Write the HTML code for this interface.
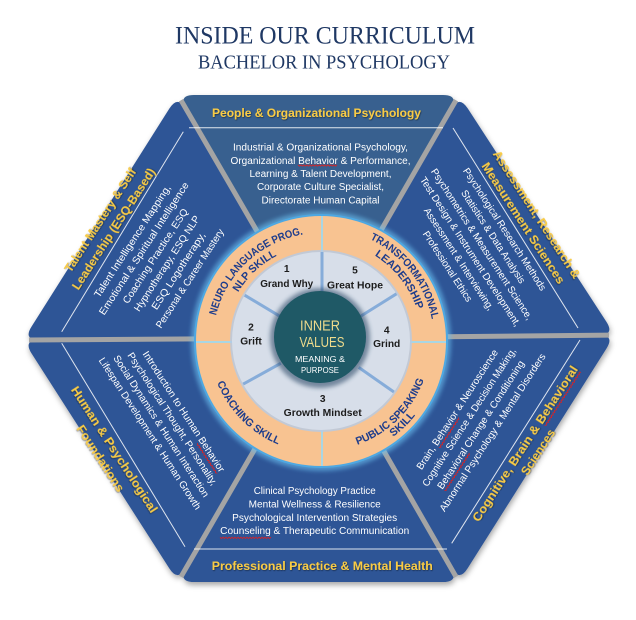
<!DOCTYPE html>
<html><head><meta charset="utf-8">
<style>
html,body{margin:0;padding:0;background:#ffffff;}
svg{display:block;}
.b{font-family:"Liberation Sans",sans-serif;font-size:10px;fill:#ffffff;}
.t{font-family:"Liberation Sans",sans-serif;font-size:12px;font-weight:bold;fill:#f8cb45;}
.r{font-family:"Liberation Sans",sans-serif;font-size:10.8px;font-weight:bold;fill:#1d3c8c;}
.n{font-family:"Liberation Sans",sans-serif;font-size:10.2px;font-weight:bold;fill:#1c1c1c;}
.w{fill:none;stroke:#e02020;stroke-width:0.8;}
</style></head>
<body>
<svg width="636" height="620" viewBox="0 0 636 620" xmlns="http://www.w3.org/2000/svg">
<defs>
<filter id="sh" x="-10%" y="-10%" width="120%" height="120%">
<feGaussianBlur in="SourceAlpha" stdDeviation="3"/>
<feOffset dx="1" dy="3" result="b"/>
<feFlood flood-color="#000" flood-opacity="0.35"/>
<feComposite in2="b" operator="in"/>
<feMerge><feMergeNode/><feMergeNode in="SourceGraphic"/></feMerge>
</filter>
<filter id="glow" x="-20%" y="-20%" width="140%" height="140%"><feGaussianBlur stdDeviation="2"/></filter>
<filter id="tsh" x="-5%" y="-20%" width="110%" height="140%"><feDropShadow dx="0.6" dy="0.8" stdDeviation="0.4" flood-color="#000" flood-opacity="0.5"/></filter>
<path id="a1" d="M215.8,365.3 A108,108 0 0 1 352.6,237.7"/>
<path id="a2" d="M227.6,363.4 A96,96 0 0 1 348.3,249"/>
<path id="a3" d="M305.9,229 A113,113 0 0 1 425.5,383.9"/>
<path id="a4" d="M306.9,241 A101,101 0 0 1 414.6,378.8"/>
<path id="a5" d="M213,311.4 A112,112 0 0 0 349.4,449.3"/>
<path id="a6" d="M291.2,446.9 A110,110 0 0 0 427.6,313.8"/>
<path id="a7" d="M288.7,456.6 A120,120 0 0 0 437.2,311.2"/>
</defs>

<!-- Title -->
<text x="325" y="43.3" font-family="Liberation Serif, serif" font-size="25" fill="#1f3864" text-anchor="middle" textLength="300" lengthAdjust="spacingAndGlyphs">INSIDE OUR CURRICULUM</text>
<text x="324" y="68.3" font-family="Liberation Serif, serif" font-size="20" fill="#1f3864" text-anchor="middle" textLength="252" lengthAdjust="spacingAndGlyphs">BACHELOR IN PSYCHOLOGY</text>

<!-- Hexagon triangles -->
<g filter="url(#sh)">
<path d="M319,338 L186,108.8 Q178,95 194,95 L443,95 Q459,95 451,108.9 Z" fill="#38618f"/>
<path d="M319,338 L451,108.9 Q459,95 467.7,108.4 L606.3,321.6 Q615,335 599,335.2 Z" fill="#2e5496"/>
<path d="M319,338 L599,335.2 Q615,335 606.5,348.5 L467.5,568.5 Q459,582 451,568.1 Z" fill="#2e5496"/>
<path d="M319,338 L451,568.1 Q459,582 443,582 L194,582 Q178,582 186,568.1 Z" fill="#2e5496"/>
<path d="M319,338 L186,568.1 Q178,582 169.4,568.5 L31.6,353.5 Q23,340 39,339.9 Z" fill="#2e5496"/>
<path d="M319,338 L39,339.9 Q23,340 31.6,326.5 L169.4,108.5 Q178,95 186,108.8 Z" fill="#2e5496"/>
</g>

<!-- gray gaps -->
<g stroke="#a4a4a4" stroke-width="5" stroke-linecap="butt">
<line x1="319" y1="338" x2="609" y2="335.1"/>
<line x1="319" y1="338" x2="456" y2="100.2"/>
<line x1="319" y1="338" x2="181" y2="100.2"/>
<line x1="319" y1="338" x2="29" y2="340"/>
<line x1="319" y1="338" x2="181" y2="576.8"/>
<line x1="319" y1="338" x2="456" y2="576.8"/>
</g>

<!-- white rules -->
<g stroke="#ffffff" stroke-width="1" opacity="0.85">
<line x1="189" y1="127.7" x2="443" y2="127.7"/>
<line x1="194" y1="549" x2="447" y2="549"/>
<line x1="61.7" y1="331.7" x2="183.3" y2="131.7"/>
<line x1="453" y1="128" x2="578" y2="328"/>
<line x1="61.7" y1="343.3" x2="185" y2="546.7"/>
<line x1="451.7" y1="543.3" x2="580" y2="340"/>
</g>

<!-- Top triangle text -->
<text class="t" filter="url(#tsh)" x="316.5" y="117" font-size="11.8" text-anchor="middle" textLength="209" lengthAdjust="spacingAndGlyphs">People &amp; Organizational Psychology</text>
<g class="b" text-anchor="middle">
<text x="320.5" y="150.6" textLength="175" lengthAdjust="spacingAndGlyphs">Industrial &amp; Organizational Psychology,</text>
<text x="320.5" y="163.8" textLength="180" lengthAdjust="spacingAndGlyphs">Organizational Behavior &amp; Performance,</text>
<text x="320.5" y="177" textLength="142" lengthAdjust="spacingAndGlyphs">Learning &amp; Talent Development,</text>
<text x="320.5" y="190.2" textLength="127" lengthAdjust="spacingAndGlyphs">Corporate Culture Specialist,</text>
<text x="320.5" y="203.4" textLength="118" lengthAdjust="spacingAndGlyphs">Directorate Human Capital</text>
</g>
<polyline class="w" points="298,164.8 299.5,166.2 301,164.8 302.5,166.2 304,164.8 305.5,166.2 307,164.8 308.5,166.2 310,164.8 311.5,166.2 313,164.8 314.5,166.2 316,164.8 317.5,166.2 319,164.8 320.5,166.2 322,164.8 323.5,166.2 325,164.8 326.5,166.2 328,164.8 329.5,166.2 331,164.8 332.5,166.2 334,164.8 335.5,166.2 337,164.8"/>

<!-- Bottom triangle text -->
<g class="b" text-anchor="middle">
<text x="314.7" y="494.2" textLength="122" lengthAdjust="spacingAndGlyphs">Clinical Psychology Practice</text>
<text x="314.7" y="507.4" textLength="132" lengthAdjust="spacingAndGlyphs">Mental Wellness &amp; Resilience</text>
<text x="314.7" y="520.8" textLength="165" lengthAdjust="spacingAndGlyphs">Psychological Intervention Strategies</text>
<text x="314.7" y="534.2" textLength="189" lengthAdjust="spacingAndGlyphs">Counseling &amp; Therapeutic Communication</text>
</g>
<polyline class="w" points="220,537.2 221.5,538.6 223,537.2 224.5,538.6 226,537.2 227.5,538.6 229,537.2 230.5,538.6 232,537.2 233.5,538.6 235,537.2 236.5,538.6 238,537.2 239.5,538.6 241,537.2 242.5,538.6 244,537.2 245.5,538.6 247,537.2 248.5,538.6 250,537.2 251.5,538.6 253,537.2 254.5,538.6 256,537.2 257.5,538.6 259,537.2 260.5,538.6 262,537.2 263.5,538.6 265,537.2 266.5,538.6 268,537.2 269.5,538.6 271,537.2"/>
<text class="t" filter="url(#tsh)" x="322.3" y="570" font-size="11.8" text-anchor="middle" textLength="221" lengthAdjust="spacingAndGlyphs">Professional Practice &amp; Mental Health</text>

<!-- Upper-left triangle text (rotate -57) -->
<g transform="translate(100.3,220.3) rotate(-57)"><text class="t" filter="url(#tsh)" x="0" y="4.2" text-anchor="middle" textLength="121" lengthAdjust="spacingAndGlyphs">Talent Mastery &amp; Self</text></g>
<g transform="translate(113.7,229) rotate(-57)"><text class="t" filter="url(#tsh)" x="0" y="4.2" text-anchor="middle" textLength="142" lengthAdjust="spacingAndGlyphs">Leadership (ESQ-Based)</text></g>
<g transform="translate(132.2,241) rotate(-57)"><text class="b" x="0" y="3.5" text-anchor="middle" textLength="132" lengthAdjust="spacingAndGlyphs">Talent Intelligence Mapping,</text></g>
<g transform="translate(143.7,248.4) rotate(-57)"><text class="b" x="0" y="3.5" text-anchor="middle" textLength="156" lengthAdjust="spacingAndGlyphs">Emotional &amp; Spiritual Intelligence</text></g>
<g transform="translate(155.2,255.9) rotate(-57)"><text class="b" x="0" y="3.5" text-anchor="middle" textLength="111" lengthAdjust="spacingAndGlyphs">Coaching Practice, ESQ</text></g>
<g transform="translate(166.7,263.4) rotate(-57)"><text class="b" x="0" y="3.5" text-anchor="middle" textLength="112" lengthAdjust="spacingAndGlyphs">Hypnotherapy, ESQ NLP</text></g>
<g transform="translate(178.2,270.8) rotate(-57)"><text class="b" x="0" y="3.5" text-anchor="middle" textLength="90" lengthAdjust="spacingAndGlyphs">ESQ Logotherapy,</text></g>
<g transform="translate(189.7,278.3) rotate(-57)"><text class="b" x="0" y="3.5" text-anchor="middle" textLength="116" lengthAdjust="spacingAndGlyphs">Personal &amp; Career Mastery</text></g>

<!-- Upper-right triangle text (rotate 57) -->
<g transform="translate(536.6,214.5) rotate(57)"><text class="t" filter="url(#tsh)" x="0" y="4.2" text-anchor="middle" textLength="150" lengthAdjust="spacingAndGlyphs">Assessment, Research &amp;</text></g>
<g transform="translate(523.2,223.2) rotate(57)"><text class="t" filter="url(#tsh)" x="0" y="4.2" text-anchor="middle" textLength="142" lengthAdjust="spacingAndGlyphs">Measurement Sciences</text></g>
<g transform="translate(504.8,229.2) rotate(57)"><text class="b" x="0" y="3.5" text-anchor="middle" textLength="144" lengthAdjust="spacingAndGlyphs">Psychological Research Methods</text></g>
<g transform="translate(493.4,236.6) rotate(57)"><text class="b" x="0" y="3.5" text-anchor="middle" textLength="109" lengthAdjust="spacingAndGlyphs">Statistics &amp; Data Analysis</text></g>
<g transform="translate(482,244.1) rotate(57)"><text class="b" x="0" y="3.5" text-anchor="middle" textLength="178" lengthAdjust="spacingAndGlyphs">Psychometrics &amp; Measurement Science,</text></g>
<g transform="translate(470.5,251.5) rotate(57)"><text class="b" x="0" y="3.5" text-anchor="middle" textLength="176" lengthAdjust="spacingAndGlyphs">Test Design &amp; Instrument Development,</text></g>
<g transform="translate(459.1,258.9) rotate(57)"><text class="b" x="0" y="3.5" text-anchor="middle" textLength="120" lengthAdjust="spacingAndGlyphs">Assessment &amp; Interviewing,</text></g>
<g transform="translate(447.7,266.3) rotate(57)"><text class="b" x="0" y="3.5" text-anchor="middle" textLength="82" lengthAdjust="spacingAndGlyphs">Professional Ethics</text></g>

<!-- Lower-left triangle text (rotate 57) -->
<g transform="translate(114.2,449.6) rotate(57)"><text class="t" filter="url(#tsh)" x="0" y="4.2" text-anchor="middle" textLength="148" lengthAdjust="spacingAndGlyphs">Human &amp; Psychological</text></g>
<g transform="translate(100.4,458.5) rotate(57)"><text class="t" filter="url(#tsh)" x="0" y="4.2" text-anchor="middle" textLength="77" lengthAdjust="spacingAndGlyphs">Foundations</text></g>
<g transform="translate(183.9,411.5) rotate(57)"><text class="b" x="0" y="3.5" text-anchor="middle" textLength="142" lengthAdjust="spacingAndGlyphs">Introduction to Human Behavior</text>
<polyline class="w" points="34,5.6 35.5,7 37,5.6 38.5,7 40,5.6 41.5,7 43,5.6 44.5,7 46,5.6 47.5,7 49,5.6 50.5,7 52,5.6 53.5,7 55,5.6 56.5,7 58,5.6 59.5,7 61,5.6 62.5,7 64,5.6 65.5,7 67,5.6 68.5,7 70,5.6"/></g>
<g transform="translate(172.6,418.8) rotate(57)"><text class="b" x="0" y="3.5" text-anchor="middle" textLength="156" lengthAdjust="spacingAndGlyphs">Psychological Thought, Personality,</text></g>
<g transform="translate(161.4,426.1) rotate(57)"><text class="b" x="0" y="3.5" text-anchor="middle" textLength="167" lengthAdjust="spacingAndGlyphs">Social Dynamics &amp; Human Interaction</text></g>
<g transform="translate(150.1,433.4) rotate(57)"><text class="b" x="0" y="3.5" text-anchor="middle" textLength="179" lengthAdjust="spacingAndGlyphs">Lifespan Development &amp; Human Growth</text></g>

<!-- Lower-right triangle text (rotate -57) -->
<g transform="translate(525.2,443.8) rotate(-57)"><text class="t" filter="url(#tsh)" x="0" y="4.2" text-anchor="middle" textLength="183" lengthAdjust="spacingAndGlyphs">Cognitive, Brain &amp; Behavioral</text>
<polyline class="w" points="26,6.4 27.5,7.8 29,6.4 30.5,7.8 32,6.4 33.5,7.8 35,6.4 36.5,7.8 38,6.4 39.5,7.8 41,6.4 42.5,7.8 44,6.4 45.5,7.8 47,6.4 48.5,7.8 50,6.4 51.5,7.8 53,6.4 54.5,7.8 56,6.4 57.5,7.8 59,6.4 60.5,7.8 62,6.4 63.5,7.8 65,6.4 66.5,7.8 68,6.4 69.5,7.8 71,6.4 72.5,7.8 74,6.4 75.5,7.8 77,6.4 78.5,7.8 80,6.4 81.5,7.8 83,6.4 84.5,7.8 86,6.4 87.5,7.8 89,6.4 90.5,7.8"/></g>
<g transform="translate(538.1,452.2) rotate(-57)"><text class="t" filter="url(#tsh)" x="0" y="4.2" text-anchor="middle" textLength="52" lengthAdjust="spacingAndGlyphs">Sciences</text></g>
<g transform="translate(457.1,409.4) rotate(-57)"><text class="b" x="0" y="3.5" text-anchor="middle" textLength="141" lengthAdjust="spacingAndGlyphs">Brain, Behavior &amp; Neuroscience</text>
<polyline class="w" points="-42,5.6 -40.5,7 -39,5.6 -37.5,7 -36,5.6 -34.5,7 -33,5.6 -31.5,7 -30,5.6 -28.5,7 -27,5.6 -25.5,7 -24,5.6 -22.5,7 -21,5.6 -19.5,7 -18,5.6 -16.5,7 -15,5.6 -13.5,7 -12,5.6 -10.5,7 -9,5.6 -7.5,7 -6,5.6"/></g>
<g transform="translate(468.9,417) rotate(-57)"><text class="b" x="0" y="3.5" text-anchor="middle" textLength="163" lengthAdjust="spacingAndGlyphs">Cognitive Science &amp; Decision Making,</text></g>
<g transform="translate(480.6,424.7) rotate(-57)"><text class="b" x="0" y="3.5" text-anchor="middle" textLength="151" lengthAdjust="spacingAndGlyphs">Behavioral Change &amp; Conditioning</text>
<polyline class="w" points="-75,5.6 -73.5,7 -72,5.6 -70.5,7 -69,5.6 -67.5,7 -66,5.6 -64.5,7 -63,5.6 -61.5,7 -60,5.6 -58.5,7 -57,5.6 -55.5,7 -54,5.6 -52.5,7 -51,5.6 -49.5,7 -48,5.6 -46.5,7 -45,5.6 -43.5,7 -42,5.6 -40.5,7 -39,5.6 -37.5,7 -36,5.6 -34.5,7 -33,5.6 -31.5,7 -30,5.6"/></g>
<g transform="translate(492.4,432.3) rotate(-57)"><text class="b" x="0" y="3.5" text-anchor="middle" textLength="186" lengthAdjust="spacingAndGlyphs">Abnormal Psychology &amp; Mental Disorders</text></g>

<!-- Ring -->
<circle cx="321" cy="341" r="130" fill="#6cc0f0" opacity="0.6" filter="url(#glow)"/>
<circle cx="321" cy="341" r="127" fill="#4ea8e2"/>
<circle cx="321" cy="341" r="125" fill="#f8c391"/>
<g stroke="#a9d6e3" stroke-width="2">
<line x1="322" y1="216" x2="322" y2="253"/>
<line x1="322" y1="429" x2="322" y2="466"/>
<line x1="196" y1="342" x2="233" y2="342"/>
<line x1="409" y1="342" x2="446" y2="342"/>
</g>
<circle cx="321" cy="341" r="91" fill="#b4cbe6" opacity="0.8"/>
<circle cx="321" cy="341" r="89" fill="#d7dee9"/>
<g stroke="#86acd9" stroke-width="3">
<line x1="322" y1="300" x2="322" y2="252"/>
<line x1="281.6" y1="317.3" x2="244.7" y2="295.2"/>
<line x1="280.8" y1="363.3" x2="243.2" y2="384.1"/>
<line x1="358.7" y1="367.4" x2="393.9" y2="392"/>
<line x1="360" y1="316.6" x2="396.5" y2="293.8"/>
</g>
<circle cx="320" cy="338" r="50" fill="#23405e" opacity="0.55" filter="url(#glow)"/>
<circle cx="320" cy="337" r="46" fill="#1f5966"/>

<!-- Ring labels -->
<text class="r"><textPath href="#a1" startOffset="50%" text-anchor="middle" textLength="126" lengthAdjust="spacingAndGlyphs">NEURO LANGUAGE PROG.</textPath></text>
<text class="r"><textPath href="#a2" startOffset="50%" text-anchor="middle" textLength="54" lengthAdjust="spacingAndGlyphs">NLP SKILL</textPath></text>
<text class="r"><textPath href="#a3" startOffset="50%" text-anchor="middle" textLength="105" lengthAdjust="spacingAndGlyphs">TRANSFORMATIONAL</textPath></text>
<text class="r"><textPath href="#a4" startOffset="50%" text-anchor="middle" textLength="70" lengthAdjust="spacingAndGlyphs">LEADERSHIP</textPath></text>
<text class="r"><textPath href="#a5" startOffset="50%" text-anchor="middle" textLength="89" lengthAdjust="spacingAndGlyphs">COACHING SKILL</textPath></text>
<text class="r"><textPath href="#a6" startOffset="50%" text-anchor="middle" textLength="96" lengthAdjust="spacingAndGlyphs">PUBLIC SPEAKING</textPath></text>
<text class="r"><textPath href="#a7" startOffset="50%" text-anchor="middle" textLength="31" lengthAdjust="spacingAndGlyphs">SKILL</textPath></text>

<!-- Inner ring labels -->
<g class="n" text-anchor="middle">
<text x="286.7" y="272">1</text>
<text x="286.7" y="287" textLength="53" lengthAdjust="spacingAndGlyphs">Grand Why</text>
<text x="355" y="273.7">5</text>
<text x="355" y="288.7" textLength="56" lengthAdjust="spacingAndGlyphs">Great Hope</text>
<text x="251" y="330.4">2</text>
<text x="251" y="344.7">Grift</text>
<text x="386.7" y="333.7">4</text>
<text x="386.7" y="347">Grind</text>
<text x="322.7" y="402">3</text>
<text x="322.7" y="416" textLength="78" lengthAdjust="spacingAndGlyphs">Growth Mindset</text>
</g>

<!-- Center text -->
<g font-family="Liberation Sans, sans-serif" text-anchor="middle">
<text x="320" y="330.4" font-size="15" fill="#eedb8c" textLength="40" lengthAdjust="spacingAndGlyphs">INNER</text>
<text x="322" y="347" font-size="15" fill="#eedb8c" textLength="45" lengthAdjust="spacingAndGlyphs">VALUES</text>
<text x="320" y="362" font-size="8.5" fill="#ffffff" textLength="50" lengthAdjust="spacingAndGlyphs">MEANING &amp;</text>
<text x="320" y="373" font-size="8.5" fill="#ffffff" textLength="38" lengthAdjust="spacingAndGlyphs">PURPOSE</text>
</g>
</svg>
</body></html>
